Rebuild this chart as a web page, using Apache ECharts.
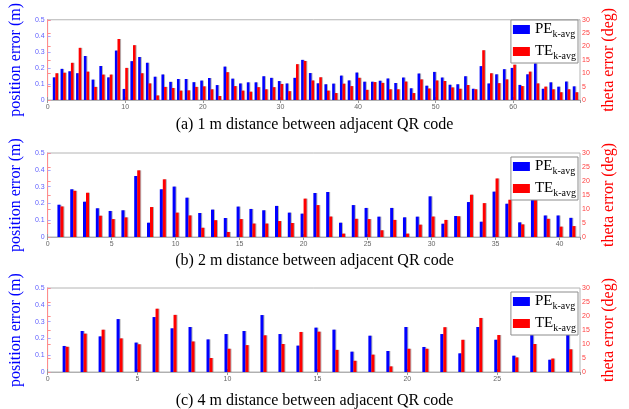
<!DOCTYPE html>
<html>
<head>
<meta charset="utf-8">
<script src="https://cdn.jsdelivr.net/npm/echarts@6/dist/echarts.min.js"></script>
<style>
  html, body { margin: 0; padding: 0; background: #fff; }
  #chart { width: 629px; height: 409px; }
</style>
</head>
<body>
<div id="chart"></div>
<script>
// 三组数据: 相邻二维码间距 1 m / 2 m / 4 m
const titles = [
  '(a) 1 m distance between adjacent QR code',
  '(b) 2 m distance between adjacent QR code',
  '(c) 4 m distance between adjacent QR code'
]
const xTickStep = [10, 5, 5]

// position error (m)
const peA = [0.141, 0.194, 0.179, 0.167, 0.274, 0.127, 0.212, 0.141, 0.308, 0.069,
  0.242, 0.268, 0.232, 0.145, 0.159, 0.113, 0.131, 0.131, 0.111, 0.121,
  0.137, 0.093, 0.208, 0.133, 0.103, 0.110, 0.110, 0.148, 0.138, 0.118,
  0.103, 0.138, 0.250, 0.168, 0.104, 0.098, 0.102, 0.152, 0.122, 0.171,
  0.114, 0.114, 0.120, 0.134, 0.106, 0.140, 0.073, 0.165, 0.089, 0.175,
  0.140, 0.095, 0.098, 0.148, 0.070, 0.211, 0.103, 0.160, 0.192, 0.200,
  0.094, 0.160, 0.228, 0.070, 0.110, 0.083, 0.115, 0.085]
// theta error (deg)
const teA = [10.0, 10.2, 13.9, 19.5, 10.6, 4.9, 9.5, 9.5, 22.8, 12.0,
  20.5, 10.0, 6.2, 1.7, 4.9, 4.5, 3.5, 3.6, 4.9, 5.1,
  4.0, 1.5, 10.4, 5.2, 3.5, 3.1, 4.8, 4.0, 4.8, 6.0,
  3.3, 13.4, 14.6, 7.3, 8.5, 3.5, 2.6, 6.1, 5.2, 8.3,
  3.8, 6.7, 6.4, 4.0, 4.0, 6.9, 2.6, 7.7, 4.3, 7.3,
  7.1, 4.7, 4.2, 5.6, 4.0, 18.6, 10.0, 6.3, 7.7, 13.2,
  5.2, 10.6, 6.2, 5.0, 4.0, 2.9, 4.0, 2.9]

const peB = [0.192, 0.284, 0.210, 0.171, 0.155, 0.159, 0.363, 0.085, 0.284, 0.300,
  0.234, 0.143, 0.163, 0.113, 0.181, 0.167, 0.159, 0.185, 0.145, 0.139,
  0.262, 0.268, 0.085, 0.190, 0.173, 0.121, 0.173, 0.117, 0.121, 0.242,
  0.079, 0.125, 0.208, 0.091, 0.270, 0.198, 0.087, 0.240, 0.128, 0.128, 0.114]
const teB = [10.9, 16.5, 15.8, 7.6, 6.4, 7.0, 23.8, 10.7, 20.6, 8.7,
  7.7, 3.3, 6.0, 1.8, 6.4, 4.8, 4.8, 5.7, 5.0, 13.7,
  11.4, 7.3, 1.2, 6.5, 6.4, 2.4, 6.1, 1.2, 4.4, 7.3,
  6.1, 7.4, 15.1, 12.1, 20.9, 13.3, 4.5, 14.5, 6.5, 3.7, 3.9]

const peC = [0.155, 0.244, 0.212, 0.315, 0.175, 0.327, 0.260, 0.268, 0.194, 0.226,
  0.244, 0.339, 0.226, 0.157, 0.264, 0.252, 0.121, 0.216, 0.125, 0.268,
  0.149, 0.226, 0.111, 0.268, 0.192, 0.097, 0.240, 0.073, 0.230]
const teC = [9.0, 13.7, 15.1, 12.0, 9.9, 22.6, 20.4, 10.9, 5.0, 8.3,
  9.6, 13.1, 10.0, 14.3, 14.4, 7.9, 4.0, 6.2, 2.0, 8.3,
  8.3, 16.0, 11.5, 19.3, 13.2, 5.2, 10.0, 4.8, 8.1]

const panels = [[peA, teA], [peB, teB], [peC, teC]]

const serif = 'Liberation Serif'
const gridTops = [16, 153, 288]
const titleTops = [112, 248, 388]
const barWidths = [2.6, 3, 3]
const gridH = 84

const grid = []
const xAxis = []
const yAxis = []
const series = []
const legend = []
const title = []

panels.forEach(([pe, te], i) => {
  const xMax = pe.length + 0.6
  grid.push({
    left: 40,
    width: 540,
    top: gridTops[i],
    height: gridH,
    show: true,
    borderColor: '#b4b4b4',
    borderWidth: 1
  })

  const xBase = {
    gridIndex: i,
    type: 'value',
    min: 0,
    max: xMax,
    interval: xTickStep[i],
    axisLine: { lineStyle: { color: '#b0b0b0' } },
    axisTick: { inside: true, length: 3, lineStyle: { color: '#999' } },
    splitLine: { show: false }
  }
  xAxis.push({
    ...xBase,
    position: 'bottom',
    axisLabel: { fontSize: 7, color: '#666', margin: 4, showMaxLabel: false }
  })
  xAxis.push({
    ...xBase,
    position: 'top',
    axisLabel: { show: false }
  })

  yAxis.push({
    gridIndex: i,
    type: 'value',
    position: 'left',
    min: 0,
    max: 0.5,
    interval: 0.1,
    name: 'position error (m)',
    nameLocation: 'middle',
    nameGap: 20,
    nameRotate: 90,
    nameTextStyle: { color: '#0000ff', fontFamily: serif, fontSize: 16 },
    axisLine: { show: true, lineStyle: { color: '#a8a8ff' } },
    axisTick: { show: true, inside: true, length: 3, lineStyle: { color: '#a8a8ff' } },
    axisLabel: {
      fontSize: 7,
      color: '#6060ff',
      margin: 3,
      formatter: v => (v === 0 ? '0' : v.toFixed(1))
    },
    splitLine: { show: false }
  })
  yAxis.push({
    gridIndex: i,
    type: 'value',
    position: 'right',
    min: 0,
    max: 30,
    interval: 5,
    name: 'theta error (deg)',
    nameLocation: 'middle',
    nameGap: 19,
    nameRotate: 90,
    nameTextStyle: { color: '#ff0000', fontFamily: serif, fontSize: 16 },
    axisLine: { show: true, lineStyle: { color: '#ff8c8c' } },
    axisTick: { show: true, inside: false, length: 3, lineStyle: { color: '#ff8c8c' } },
    axisLabel: { fontSize: 7, color: '#ff4040', margin: 2 },
    splitLine: { show: false }
  })

  const barStyle = {
    shadowColor: 'rgba(0,0,0,0.3)',
    shadowOffsetX: 1,
    shadowBlur: 0
  }
  series.push({
    name: 'PE',
    type: 'bar',
    xAxisIndex: i * 2,
    yAxisIndex: i * 2,
    barWidth: barWidths[i],
    barGap: '0%',
    data: pe.map((v, k) => [k + 1, v]),
    itemStyle: { color: '#0000ff', ...barStyle }
  })
  series.push({
    name: 'TE',
    type: 'bar',
    xAxisIndex: i * 2,
    yAxisIndex: i * 2 + 1,
    barWidth: barWidths[i],
    barGap: '0%',
    data: te.map((v, k) => [k + 1, v]),
    itemStyle: { color: '#ff0000', ...barStyle }
  })

  legend.push({
    orient: 'vertical',
    right: 51,
    top: gridTops[i] + 4,
    data: ['PE', 'TE'],
    icon: 'rect',
    itemWidth: 17,
    itemHeight: 9,
    itemGap: 5,
    padding: [2, 2, 2, 2],
    backgroundColor: '#fff',
    borderColor: '#8c8c8c',
    borderWidth: 1,
    selectedMode: false,
    formatter: name => `{m|${name}}{s|k-avg}`,
    textStyle: {
      rich: {
        m: { fontFamily: serif, fontSize: 15, color: '#000' },
        s: { fontFamily: serif, fontSize: 10, color: '#000', padding: [9, 0, 0, 0] }
      }
    }
  })

  title.push({
    text: titles[i],
    left: 'center',
    top: titleTops[i],
    textStyle: { fontFamily: serif, fontSize: 16, fontWeight: 'normal', color: '#000' }
  })
})

const myChart = echarts.init(document.getElementById('chart'))
myChart.setOption({
  animation: false,
  title,
  legend,
  grid,
  xAxis,
  yAxis,
  series
})
</script>
</body>
</html>
